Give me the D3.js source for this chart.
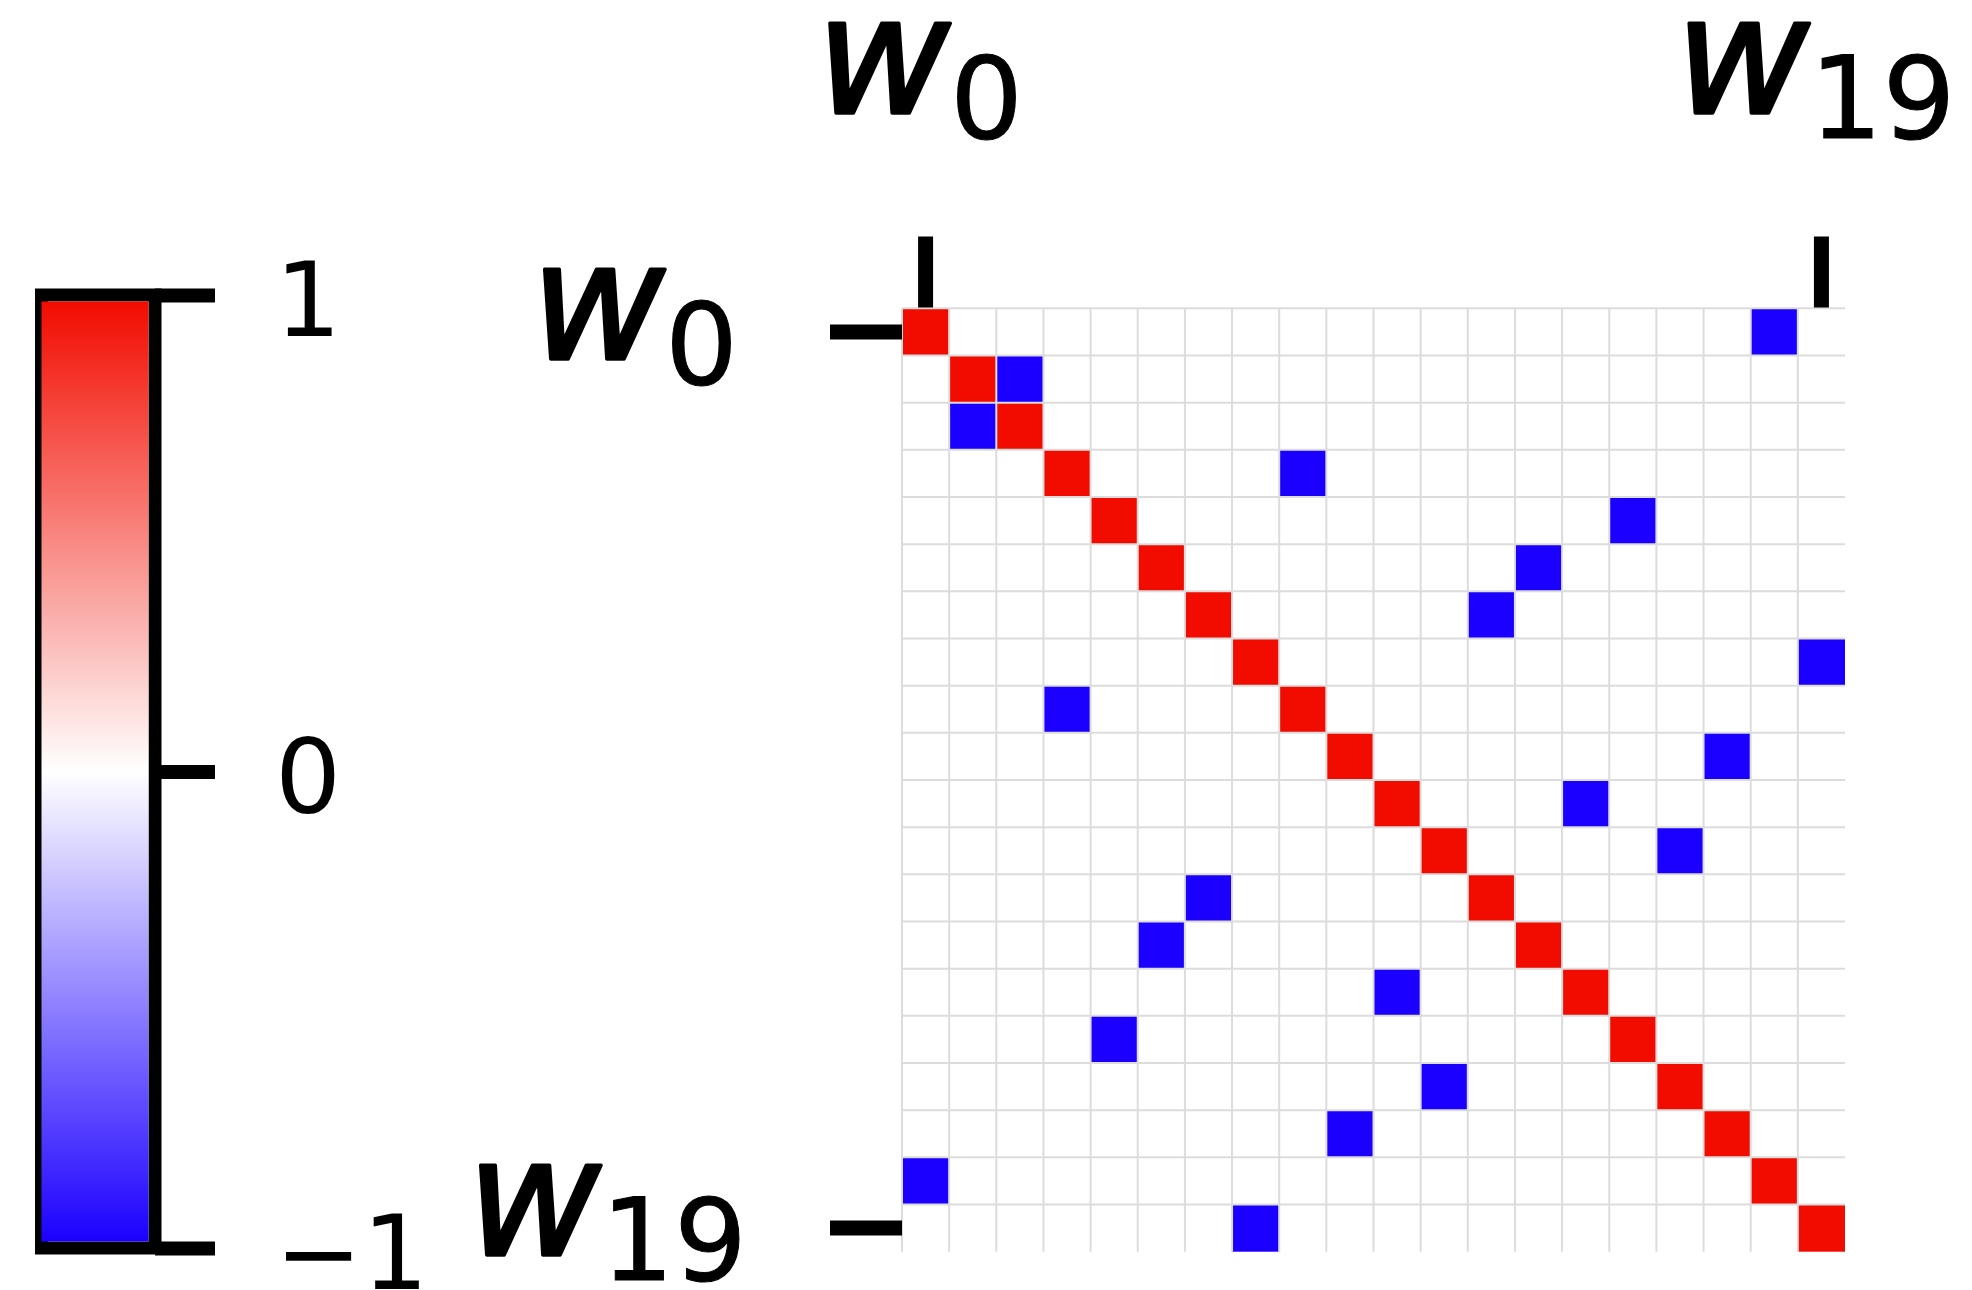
<!DOCTYPE html>
<html>
<head>
<meta charset="utf-8">
<script src="https://cdn.jsdelivr.net/npm/d3@7"></script>
<style>
  html, body { margin: 0; padding: 0; background: #ffffff; }
  svg { display: block; }
</style>
</head>
<body>
<svg id="chart" width="1972" height="1290"></svg>
<script>
// Weight indices w0 … w19 and the labelled ticks on each axis
const indices = d3.range(0, 20);
const tickIndices = [0, 19];
const tickSubscripts = ["0", "19"];

// Non-zero entries of the 20×20 matrix: [row, column, value]
const diagonalEntries = [
  [0, 0, 1], [1, 1, 1], [2, 2, 1], [3, 3, 1], [4, 4, 1],
  [5, 5, 1], [6, 6, 1], [7, 7, 1], [8, 8, 1], [9, 9, 1],
  [10, 10, 1], [11, 11, 1], [12, 12, 1], [13, 13, 1], [14, 14, 1],
  [15, 15, 1], [16, 16, 1], [17, 17, 1], [18, 18, 1], [19, 19, 1]
];
const offDiagonalEntries = [
  [0, 18, -1], [1, 2, -1], [2, 1, -1], [3, 8, -1], [4, 15, -1],
  [5, 13, -1], [6, 12, -1], [7, 19, -1], [8, 3, -1], [9, 17, -1],
  [10, 14, -1], [11, 16, -1], [12, 6, -1], [13, 5, -1], [14, 10, -1],
  [15, 4, -1], [16, 11, -1], [17, 9, -1], [18, 0, -1], [19, 7, -1]
];

// Colour bar ticks
const colorbarTicks = [-1, 0, 1];

const svg = d3.select("#chart");
const FONT = "'DejaVu Sans', 'Liberation Sans', sans-serif";

// Diverging blue–white–red colour map on [-1, 1]
const color = d3.scaleLinear()
  .domain([-1, 0, 1])
  .range(["#1c00ff", "#ffffff", "#f20c00"])
  .interpolate(d3.interpolateRgb);

// ---------- matrix ----------
const x = d3.scaleBand().domain(indices).range([902, 1845]).padding(0);
const y = d3.scaleBand().domain(indices).range([308.3, 1251.7]).padding(0);

const matrix = svg.append("g").attr("class", "matrix");

// background (value 0 everywhere)
matrix.append("rect")
  .attr("x", x.range()[0])
  .attr("y", y.range()[0])
  .attr("width", x.range()[1] - x.range()[0])
  .attr("height", y.range()[1] - y.range()[0])
  .attr("fill", color(0));

const entries = diagonalEntries.concat(offDiagonalEntries);
matrix.selectAll("rect.cell")
  .data(entries)
  .join("rect")
  .attr("class", "cell")
  .attr("x", d => x(d[1]))
  .attr("y", d => y(d[0]))
  .attr("width", x.bandwidth())
  .attr("height", y.bandwidth())
  .attr("fill", d => color(d[2]));

// light grid lines at the cell boundaries
const grid = matrix.append("g").attr("stroke", "#dcdcdc").attr("stroke-width", 2);
grid.selectAll("line.v")
  .data(indices)
  .join("line")
  .attr("class", "v")
  .attr("x1", d => x(d)).attr("x2", d => x(d))
  .attr("y1", y.range()[0]).attr("y2", y.range()[1]);
grid.selectAll("line.h")
  .data(indices)
  .join("line")
  .attr("class", "h")
  .attr("y1", d => y(d)).attr("y2", d => y(d))
  .attr("x1", x.range()[0]).attr("x2", x.range()[1]);

// ---------- axes with w_i labels ----------
function labelWithSubscript(textSel, main, sub, size) {
  textSel.text(null);
  textSel.append("tspan")
    .attr("font-style", "oblique")
    .attr("font-size", size)
    .attr("stroke", "#000")
    .attr("stroke-width", 3.5)
    .attr("stroke-linejoin", "round")
    .text(main);
  textSel.append("tspan")
    .attr("font-size", size * 0.7)
    .attr("stroke", "#000")
    .attr("stroke-width", 1)
    .attr("dy", 25)
    .text(sub);
}

const topAxis = d3.axisTop(x)
  .tickValues(tickIndices)
  .tickSizeInner(71)
  .tickSizeOuter(0)
  .tickPadding(124);

const gTop = svg.append("g")
  .attr("transform", `translate(0, 307.5)`)
  .call(topAxis);
gTop.select(".domain").remove();
gTop.selectAll(".tick line").attr("stroke", "#000").attr("stroke-width", 15);
gTop.selectAll(".tick text")
  .attr("font-family", FONT)
  .attr("fill", "#000")
  .attr("dy", 0)
  .attr("dx", -6)
  .each(function (d, i) {
    labelWithSubscript(d3.select(this), "w", tickSubscripts[i], 164);
  });

const leftAxis = d3.axisLeft(y)
  .tickValues(tickIndices)
  .tickSizeInner(72)
  .tickSizeOuter(0)
  .tickPadding(83);

const gLeft = svg.append("g")
  .attr("transform", `translate(902, 0)`)
  .call(leftAxis);
gLeft.select(".domain").remove();
gLeft.selectAll(".tick line").attr("stroke", "#000").attr("stroke-width", 15);
gLeft.selectAll(".tick text")
  .attr("font-family", FONT)
  .attr("fill", "#000")
  .attr("dy", 27)
  .attr("dx", (d, i) => (tickSubscripts[i].length === 1 ? -9 : 0))
  .each(function (d, i) {
    labelWithSubscript(d3.select(this), "w", tickSubscripts[i], 164);
  });

// ---------- colour bar ----------
const cbLeft = 41.5, cbRight = 155;
const cb = d3.scaleLinear().domain([-1, 1]).range([1248, 295]);

const defs = svg.append("defs");
const grad = defs.append("linearGradient")
  .attr("id", "cbGradient")
  .attr("x1", 0).attr("x2", 0)
  .attr("y1", 1).attr("y2", 0);
d3.range(-1, 1.0001, 0.05).forEach(v => {
  grad.append("stop")
    .attr("offset", ((v + 1) / 2 * 100).toFixed(2) + "%")
    .attr("stop-color", color(v));
});

const gCb = svg.append("g").attr("class", "colorbar");

// outline
gCb.append("rect")
  .attr("x", cbLeft)
  .attr("y", cb(1))
  .attr("width", cbRight - cbLeft)
  .attr("height", cb(-1) - cb(1))
  .attr("fill", "none")
  .attr("stroke", "#000")
  .attr("stroke-width", 13);

// colour ramp
gCb.append("rect")
  .attr("x", cbLeft)
  .attr("y", cb(1) + 6.5)
  .attr("width", cbRight - cbLeft - 6.5)
  .attr("height", cb(-1) - cb(1) - 13)
  .attr("fill", "url(#cbGradient)");

const cbAxis = d3.axisRight(cb)
  .tickValues(colorbarTicks)
  .tickSizeInner(60)
  .tickSizeOuter(0)
  .tickPadding(60)
  .tickFormat(d3.format("d"));

const gCbAxis = svg.append("g")
  .attr("transform", `translate(${cbRight}, 0)`)
  .call(cbAxis);
gCbAxis.select(".domain").remove();
gCbAxis.selectAll(".tick line").attr("stroke", "#000").attr("stroke-width", 14);
gCbAxis.selectAll(".tick text")
  .attr("font-family", FONT)
  .attr("font-size", 104)
  .attr("fill", "#000")
  .attr("dy", "0.39em");
</script>
</body>
</html>
